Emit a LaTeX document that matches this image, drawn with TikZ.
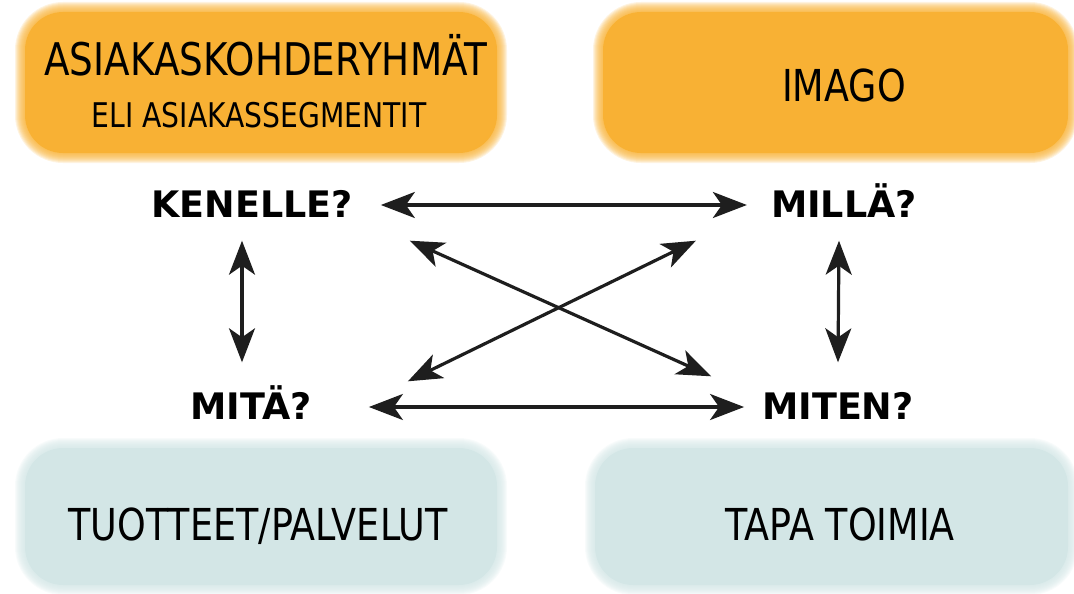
\documentclass[tikz,border=0pt]{standalone}
\usepackage{fontspec}
\setmainfont[FakeStretch=0.83]{DejaVu Sans}
\newfontfamily\askfont[FakeStretch=1.0]{DejaVu Sans}
\usetikzlibrary{arrows.meta}
\definecolor{orng}{HTML}{F8B134}
\definecolor{lteal}{HTML}{D3E6E6}
\definecolor{ink}{HTML}{1E1E1E}
\tikzset{
  ask/.style={font=\askfont\bfseries\fontsize{36.5}{40}\selectfont, inner sep=0pt, text height=25pt, text depth=0pt},
  boxtext/.style={anchor=base, inner sep=0pt},
  twoway/.style={ink, line width=3.2pt, {Stealth[length=34pt, width=26pt, inset=9pt]}-{Stealth[length=34pt, width=26pt, inset=9pt]}}
}

\begin{document}
\begin{tikzpicture}[x=1pt, y=-1pt]
\useasboundingbox (0,0) rectangle (1074,594);
\clip (0,0) rectangle (1074,594);
\foreach \xa/\ya/\xb/\yb/\col in {25/12/497/153/orng, 603/12/1068/153/orng, 25/448/497/585/lteal, 595/448/1068/585/lteal}{
  \foreach \d in {10,...,1}
    \fill[\col, opacity=0.15, rounded corners=38+\d] (\xa-\d,\ya-\d) rectangle (\xb+\d,\yb+\d);
  \fill[\col, rounded corners=38] (\xa,\ya) rectangle (\xb,\yb);
}

\node[boxtext, font=\fontsize{45}{50}\selectfont] (segm) at (266,76) {ASIAKASKOHDERYHMÄT};
\node[boxtext, font=\fontsize{34}{38}\selectfont] (segm2) at (259,127) {ELI ASIAKASSEGMENTIT};
\node[boxtext, font=\fontsize{44}{48}\selectfont] (imago) at (844,102) {IMAGO};
\node[boxtext, font=\fontsize{44}{48}\selectfont] (tuot) at (258,540) {TUOTTEET/PALVELUT};
\node[boxtext, font=\fontsize{44}{48}\selectfont] (tapa) at (840,540) {TAPA TOIMIA};

\node[ask] (ken) at (252,205) {KENELLE?};
\node[ask] (mil) at (844,205) {MILLÄ?};
\node[ask] (mit) at (251,407) {MITÄ?};
\node[ask] (mite) at (838,407) {MITEN?};

\draw[twoway] ([xshift=28]ken.east) -- ([xshift=-24]mil.west);
\draw[twoway] ([xshift=57]mit.east) -- ([xshift=-18]mite.west);
\draw[twoway] ([xshift=-10,yshift=-23]ken.south) -- ([xshift=-9,yshift=32]mit.north);
\draw[twoway] ([xshift=-5,yshift=-23]mil.south) -- ([yshift=32]mite.north);
\draw[twoway] ([xshift=57,yshift=-23]ken.south east) -- ([xshift=-51,yshift=18]mite.north west);
\draw[twoway] ([xshift=96,yshift=13]mit.north east) -- ([xshift=-75,yshift=-23]mil.south west);
\end{tikzpicture}
\end{document}
